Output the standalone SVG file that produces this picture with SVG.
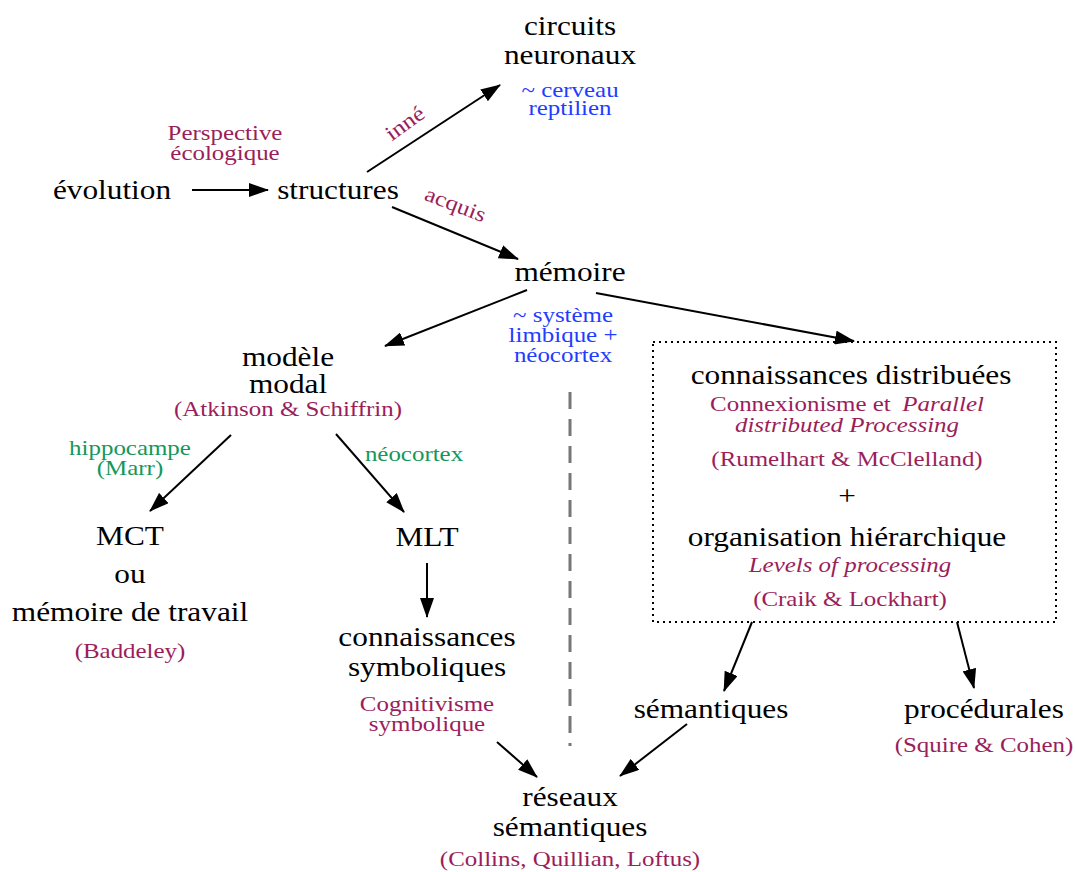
<svg xmlns="http://www.w3.org/2000/svg" width="1075" height="872" viewBox="0 0 1075 872">
  <style>
    text { font-family: "Liberation Serif", "Times New Roman", serif; text-anchor: middle; }
    .main { font-size: 27px; fill: #000; }
    .note { font-size: 21.5px; fill: #9b1e5a; }
    .blue { font-size: 21.5px; fill: #1f3dff; }
    .green { font-size: 21.5px; fill: #14985a; }
    .it { font-style: italic; }
    .edge { stroke: #000; stroke-width: 2; fill: none; marker-end: url(#arrow); }
  </style>
  <defs>
    <marker id="arrow" viewBox="0 0 20 14" refX="19" refY="7" markerWidth="20" markerHeight="14" markerUnits="userSpaceOnUse" orient="auto">
      <path d="M0,0 L20,7 L0,14 Z" fill="#000"/>
    </marker>
  </defs>
  <rect width="1075" height="872" fill="#fff"/>

  <!-- connectors -->
  <g id="connectors">
    <line class="edge" x1="192" y1="190" x2="268" y2="190"/>
    <line class="edge" x1="367" y1="172" x2="500" y2="85"/>
    <line class="edge" x1="392" y1="207" x2="518" y2="259"/>
    <line class="edge" x1="527" y1="290" x2="385" y2="346"/>
    <line class="edge" x1="596" y1="293" x2="854" y2="341"/>
    <line class="edge" x1="231" y1="435" x2="150" y2="511"/>
    <line class="edge" x1="336" y1="434" x2="404" y2="512"/>
    <line class="edge" x1="427" y1="563" x2="427" y2="617"/>
    <line class="edge" x1="497" y1="742" x2="537" y2="777"/>
    <line class="edge" x1="752" y1="622" x2="724" y2="691"/>
    <line class="edge" x1="957" y1="622" x2="974" y2="688"/>
    <line class="edge" x1="687" y1="724" x2="620" y2="776"/>
    <!-- separator -->
    <line x1="570" y1="392" x2="570" y2="746" stroke="#777" stroke-width="3" stroke-dasharray="17 10"/>
    <!-- edge labels -->
    <text class="note" transform="translate(225 140) scale(1.16 1)">Perspective</text>
    <text class="note" transform="translate(225 160) scale(1.16 1)">écologique</text>
    <text class="note" transform="translate(409 129) rotate(-36) scale(1.16 1)">inné</text>
    <text class="note" transform="translate(453 211) rotate(21) scale(1.16 1)">acquis</text>
    <text class="green" transform="translate(130 455) scale(1.16 1)">hippocampe</text>
    <text class="green" transform="translate(130 475) scale(1.16 1)">(Marr)</text>
    <text class="green" transform="translate(414 461) scale(1.16 1)">néocortex</text>
    <text class="note" transform="translate(427 711) scale(1.16 1)">Cognitivisme</text>
    <text class="note" transform="translate(427 731) scale(1.16 1)">symbolique</text>
  </g>

  <g id="evolution">
    <text class="main" transform="translate(112 199) scale(1.16 1)">évolution</text>
  </g>
  <g id="structures">
    <text class="main" transform="translate(338 199) scale(1.16 1)">structures</text>
  </g>
  <g id="circuits">
    <text class="main" transform="translate(570 35) scale(1.16 1)">circuits</text>
    <text class="main" transform="translate(570 64) scale(1.16 1)">neuronaux</text>
    <text class="blue" transform="translate(570 97) scale(1.16 1)">~ cerveau</text>
    <text class="blue" transform="translate(570 115) scale(1.16 1)">reptilien</text>
  </g>
  <g id="memoire">
    <text class="main" transform="translate(570 281) scale(1.16 1)">mémoire</text>
    <text class="blue" transform="translate(563 322) scale(1.16 1)">~ système</text>
    <text class="blue" transform="translate(563 342) scale(1.16 1)">limbique +</text>
    <text class="blue" transform="translate(563 362) scale(1.16 1)">néocortex</text>
  </g>
  <g id="modele">
    <text class="main" transform="translate(288 366) scale(1.16 1)">modèle</text>
    <text class="main" transform="translate(288 393) scale(1.16 1)">modal</text>
    <text class="note" transform="translate(288 416) scale(1.16 1)">(Atkinson &amp; Schiffrin)</text>
  </g>
  <g id="mct">
    <text class="main" transform="translate(130 545) scale(1.16 1)">MCT</text>
    <text class="main" transform="translate(130 583) scale(1.16 1)">ou</text>
    <text class="main" transform="translate(130 621) scale(1.16 1)">mémoire de travail</text>
    <text class="note" transform="translate(130 658) scale(1.16 1)">(Baddeley)</text>
  </g>
  <g id="mlt">
    <text class="main" transform="translate(427 546) scale(1.16 1)">MLT</text>
  </g>
  <g id="symboliques">
    <text class="main" transform="translate(427 646) scale(1.16 1)">connaissances</text>
    <text class="main" transform="translate(427 676) scale(1.16 1)">symboliques</text>
  </g>
  <g id="distribuees">
    <rect x="653" y="342" width="403" height="280" fill="none" stroke="#000" stroke-width="2" stroke-dasharray="2 4"/>
    <text class="main" transform="translate(851 384) scale(1.16 1)">connaissances distribuées</text>
    <text class="note" transform="translate(847 411) scale(1.16 1)">Connexionisme et<tspan class="it" dx="10">Parallel</tspan></text>
    <text class="note it" transform="translate(847 432) scale(1.16 1)">distributed Processing</text>
    <text class="note" transform="translate(847 466) scale(1.16 1)">(Rumelhart &amp; McClelland)</text>
    <text class="main" transform="translate(847 505) scale(1.16 1)">+</text>
    <text class="main" transform="translate(847 546) scale(1.16 1)">organisation hiérarchique</text>
    <text class="note it" transform="translate(850 572) scale(1.16 1)">Levels of processing</text>
    <text class="note" transform="translate(850 606) scale(1.16 1)">(Craik &amp; Lockhart)</text>
  </g>
  <g id="semantiques">
    <text class="main" transform="translate(711 718) scale(1.16 1)">sémantiques</text>
  </g>
  <g id="procedurales">
    <text class="main" transform="translate(984 718) scale(1.16 1)">procédurales</text>
    <text class="note" transform="translate(984 752) scale(1.16 1)">(Squire &amp; Cohen)</text>
  </g>
  <g id="reseaux">
    <text class="main" transform="translate(570 806) scale(1.16 1)">réseaux</text>
    <text class="main" transform="translate(570 836) scale(1.16 1)">sémantiques</text>
    <text class="note" transform="translate(570 866) scale(1.16 1)">(Collins, Quillian, Loftus)</text>
  </g>
</svg>
